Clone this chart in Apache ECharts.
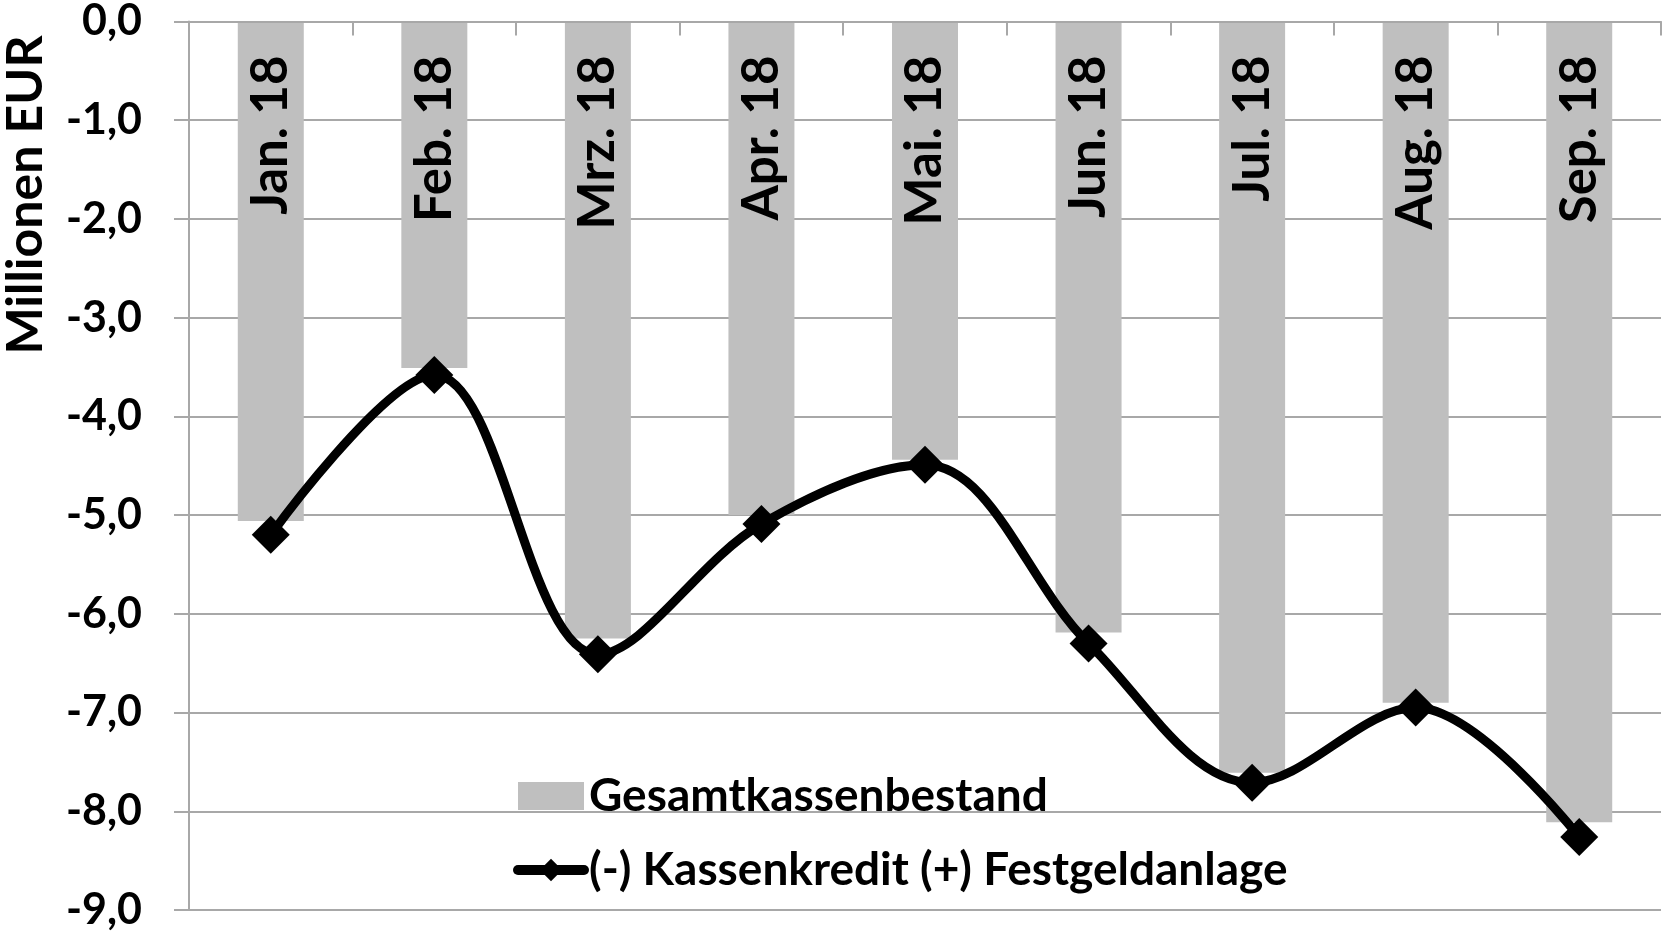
<!DOCTYPE html>
<html>
<head>
<meta charset="utf-8">
<script src="https://cdn.jsdelivr.net/npm/echarts@6/dist/echarts.min.js"></script>
<style>
html,body{margin:0;padding:0;background:#fff;}
#chart{width:1664px;height:933px;}
</style>
</head>
<body>
<div id="chart"></div>
<script>
const categories = ['Jan. 18','Feb. 18','Mrz. 18','Apr. 18','Mai. 18','Jun. 18','Jul. 18','Aug. 18','Sep. 18'];
const gesamtkassenbestand = [-5.06, -3.51, -6.25, -5.00, -4.44, -6.19, -7.61, -6.90, -8.11];
const kassenkredit = [-5.20, -3.58, -6.41, -5.09, -4.49, -6.30, -7.71, -6.95, -8.26];
const yTickLabels = ['0,0','-1,0','-2,0','-3,0','-4,0','-5,0','-6,0','-7,0','-8,0','-9,0'];
const seriesNames = ['Gesamtkassenbestand', '(-) Kassenkredit (+) Festgeldanlage'];
const yAxisTitle = 'Millionen EUR';

const FONT = 'Lato';
const gridColor = '#a8a8a8';

const chart = echarts.init(document.getElementById('chart'), null, {renderer: 'canvas'});
chart.setOption({
  animation: false,
  backgroundColor: '#fff',
  grid: {left: 189, right: 3, top: 19, bottom: 23, containLabel: false},
  legend: {
    orient: 'vertical',
    left: 508,
    top: 766,
    itemWidth: 66,
    itemHeight: 28,
    itemGap: 24,
    textStyle: {fontFamily: FONT, fontWeight: 'bold', fontSize: 46, color: '#000', lineHeight: 50},
    data: [
      {name: seriesNames[0], icon: 'rect'},
      {name: seriesNames[1], lineStyle: {width: 10, color: '#000', cap: 'round'}}
    ]
  },
  xAxis: {
    type: 'category',
    data: categories,
    position: 'top',
    boundaryGap: true,
    z: 10,
    axisLine: {show: true, lineStyle: {color: gridColor, width: 2}},
    axisTick: {show: true, inside: true, length: 14, lineStyle: {color: gridColor, width: 2}},
    axisLabel: {
      inside: true,
      rotate: 90,
      margin: 34,
      interval: 0,
      fontFamily: FONT,
      fontWeight: 'bold',
      fontSize: 51,
      color: '#000'
    },
    splitLine: {show: false}
  },
  yAxis: {
    type: 'value',
    min: -9,
    max: 0,
    interval: 1,
    axisLine: {show: true, lineStyle: {color: gridColor, width: 2}},
    axisTick: {show: true, inside: false, length: 15, lineStyle: {color: gridColor, width: 2}},
    axisLabel: {
      margin: 47,
      fontFamily: FONT,
      fontWeight: 'bold',
      fontSize: 43,
      color: '#000',
      formatter: function (v) { return yTickLabels[Math.round(-v)]; }
    },
    splitLine: {show: true, lineStyle: {color: gridColor, width: 2}}
  },
  graphic: [{
    type: 'text',
    x: 26,
    y: 195,
    rotation: Math.PI / 2,
    style: {
      text: yAxisTitle,
      fontFamily: FONT,
      fontWeight: 'bold',
      fontSize: 50,
      fill: '#000',
      align: 'center',
      verticalAlign: 'middle'
    }
  }],
  series: [
    {
      name: seriesNames[0],
      type: 'bar',
      data: gesamtkassenbestand,
      barWidth: 66,
      itemStyle: {color: '#bfbfbf'},
      z: 2
    },
    {
      name: seriesNames[1],
      type: 'line',
      data: kassenkredit,
      smooth: 0.35,
      symbol: 'diamond',
      symbolSize: 38,
      lineStyle: {color: '#000', width: 9},
      itemStyle: {color: '#000'},
      z: 3
    }
  ]
});
</script>
</body>
</html>
